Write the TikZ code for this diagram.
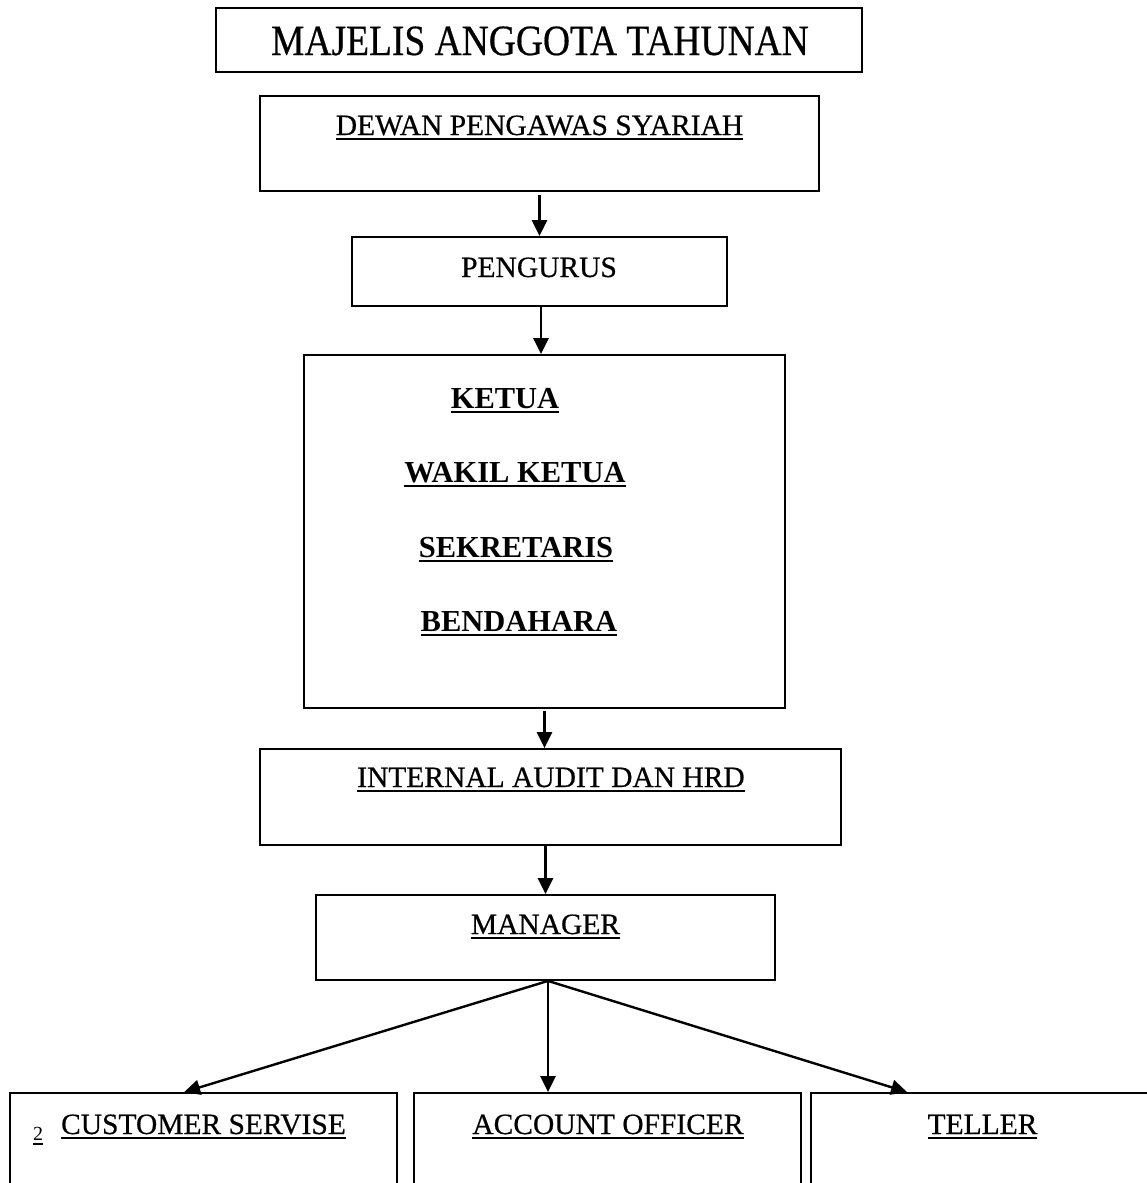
\documentclass[tikz,border=0pt]{standalone}
\usepackage{fontspec}
\setmainfont{Liberation Serif}
\newfontfamily\heavy[FakeBold=0.5]{Liberation Serif}
\usetikzlibrary{arrows.meta,calc}
\newcommand\myul[1]{\setbox0\hbox{#1}\rlap{\rule[-4.5pt]{\wd0}{1.8pt}}\box0}
\begin{document}
\begin{tikzpicture}[x=1pt,y=-1pt,
  box/.style={draw,line width=1.8pt,rectangle,inner sep=0pt},
  lbl/.style={anchor=base,inner sep=0pt,font=\fontsize{29.5}{35}\selectfont\heavy},
  blbl/.style={anchor=base,inner sep=0pt,font=\fontsize{30.5}{36}\selectfont\bfseries},
  arr/.style={line width=2.4pt,-{Triangle[length=16pt,width=15pt]}}]
\useasboundingbox (0,0) rectangle (1147,1183);
\fill[white] (0,0) rectangle (1147,1183);
\clip (0,0) rectangle (1147,1183);

% boxes
\node[box,minimum width=646pt,minimum height=64pt] (title) at (539,40) {};
\node[box,minimum width=559pt,minimum height=95pt] (dps) at (539.5,143.5) {};
\node[box,minimum width=375pt,minimum height=69pt] (peng) at (539.5,271.5) {};
\node[box,minimum width=481pt,minimum height=353pt] (big) at (544.5,531.5) {};
\node[box,minimum width=581pt,minimum height=96pt] (ia) at (550.5,797) {};
\node[box,minimum width=459pt,minimum height=85pt] (mgr) at (545.5,937.5) {};
\node[box,minimum width=387pt,minimum height=120pt] (cs) at (203.5,1153) {};
\node[box,minimum width=387pt,minimum height=120pt] (ao) at (607.5,1153) {};
\node[box,minimum width=360pt,minimum height=120pt] (tel) at (991,1153) {};

% texts
\node[anchor=base,inner sep=0pt,font=\fontsize{37.5}{44}\selectfont\heavy] (ttitle) at (540,55) {\scalebox{1}[1.15]{MAJELIS ANGGOTA TAHUNAN}};
\node[lbl] (tdps) at (539.5,135) {\myul{DEWAN PENGAWAS SYARIAH}};
\node[lbl] (tpeng) at (539,277) {PENGURUS};
\node[blbl] (tketua) at (505,408) {\myul{KETUA}};
\node[blbl] (twakil) at (515,482) {\myul{WAKIL KETUA}};
\node[blbl] (tsek) at (516,557) {\myul{SEKRETARIS}};
\node[blbl] (tbend) at (519,631) {\myul{BENDAHARA}};
\node[lbl] (tia) at (551,787) {\myul{INTERNAL AUDIT DAN HRD}};
\node[lbl] (tmgr) at (545.5,934) {\myul{MANAGER}};
\node[lbl] (tcs) at (203.5,1134) {\myul{CUSTOMER SERVISE}};
\node[anchor=base,inner sep=0pt,font=\fontsize{20}{24}\selectfont] (tnum) at (38,1140) {\myul{2}};
\node[lbl] (tao) at (608,1134) {\myul{ACCOUNT OFFICER}};
\node[lbl] (ttel) at (982.5,1134) {\myul{TELLER}};

% connectors
\draw[arr] ([yshift=-3pt]dps.south -| peng.north) -- (peng.north);
\draw[arr] ([xshift=1.5pt]peng.south) -- ([xshift=1.5pt]peng.south |- big.north);
\draw[arr] ([yshift=-2pt]big.south) -- (big.south |- ia.north);
\draw[arr] (ia.south -| mgr.north) -- (mgr.north);
\coordinate (mfork) at ($(mgr.south)+(2.5,0)$);
\draw[arr] (mfork) -- ($(cs.north west)+(175,0)$);
\draw[arr] (mfork) -- (mfork |- ao.north);
\draw[arr] (mfork) -- ($(tel.north west)+(97,0)$);
\end{tikzpicture}
\end{document}
